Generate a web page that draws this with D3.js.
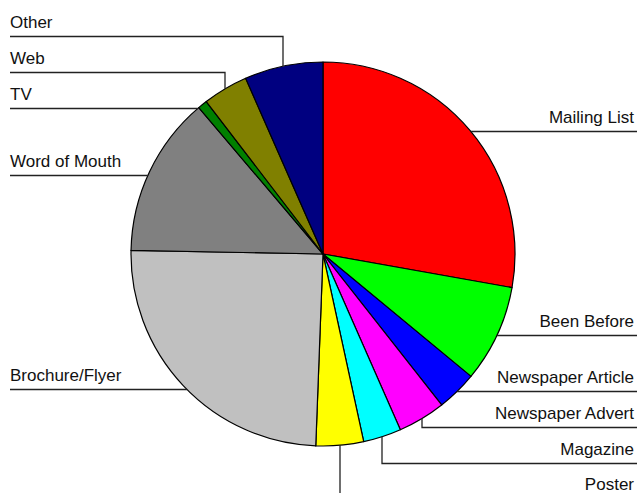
<!DOCTYPE html>
<html>
<head>
<meta charset="utf-8">
<script src="https://cdn.jsdelivr.net/npm/d3@7"></script>
<style>
  body { margin: 0; background: #fff; }
  text { font-family: Arial, "Liberation Sans", sans-serif; font-size: 17px; fill: #111; }
</style>
</head>
<body>
<div id="chart"></div>
<script>
// data (share of answers, per mille)
var categories = ["Mailing List", "Been Before", "Newspaper Article", "Newspaper Advert",
                  "Magazine", "Poster", "Brochure/Flyer", "Word of Mouth", "TV", "Web", "Other"];
var values = [278, 82, 34, 40, 32, 40, 247, 135, 8, 38, 66];
var colours = ["#FF0000", "#00FF00", "#0000FF", "#FF00FF", "#00FFFF", "#FFFF00",
               "#C0C0C0", "#808080", "#008000", "#808000", "#000080"];

var width = 637;
var height = 493;
var cx = 323, cy = 254;
var radius = 192;
var gap = 36; // min distance between two label lines

var pieData = categories.map(function (c, i) {
    return { name: c, value: values[i], colour: colours[i] };
});

var pie = d3.pie().sort(null).value(function (d) { return d.value; });
var arc = d3.arc().innerRadius(0).outerRadius(radius);
var rim = d3.arc().innerRadius(radius).outerRadius(radius);

var svg = d3.select('#chart').append('svg')
    .attr('width', width)
    .attr('height', height);

var arcs = pie(pieData);

// slices
svg.append('g')
    .attr('transform', 'translate(' + cx + ',' + cy + ')')
    .selectAll('path')
    .data(arcs)
    .enter()
    .append('path')
    .attr('d', arc)
    .attr('fill', function (d) { return d.data.colour; })
    .attr('stroke', '#000')
    .attr('stroke-width', 1.2)
    .attr('stroke-linejoin', 'round');

// label positions: anchor = middle of the arc, then push apart
var labels = arcs.map(function (d) {
    var p = rim.centroid(d);
    return { name: d.data.name, ax: cx + p[0], ay: cy + p[1], right: p[0] > 0 };
});

var rightSide = labels.filter(function (l) { return l.right; })
    .sort(function (a, b) { return a.ay - b.ay; });
var prev = -Infinity;
rightSide.forEach(function (l) {
    l.ly = Math.max(l.ay, prev + gap);
    prev = l.ly;
});

// left ones sit a little lower than their anchor in the original
var leftSide = labels.filter(function (l) { return !l.right; })
    .sort(function (a, b) { return b.ay - a.ay; });
prev = Infinity;
leftSide.forEach(function (l) {
    l.ly = Math.min(l.ay + 3, prev - gap);
    prev = l.ly;
});

var lab = svg.append('g').selectAll('g')
    .data(labels)
    .enter()
    .append('g');

lab.append('path')
    .attr('d', function (l) {
        var y = Math.round(l.ly) + 0.5;
        var x0 = l.right ? width : 10;
        if (Math.abs(l.ly - l.ay) < 6) {
            // run straight into the rim
            var dx = Math.sqrt(radius * radius - (y - cy) * (y - cy));
            var xe = l.right ? cx + dx : cx - dx;
            return 'M' + x0 + ',' + y + 'H' + xe;
        }
        return 'M' + x0 + ',' + y + 'H' + Math.round(l.ax) + 'V' + l.ay;
    })
    .attr('fill', 'none')
    .attr('stroke', '#222')
    .attr('stroke-width', 1.3);

lab.append('text')
    .attr('x', function (l) { return l.right ? 634 : 10; })
    .attr('y', function (l) { return Math.min(Math.round(l.ly) - 8, 490); })
    .attr('text-anchor', function (l) { return l.right ? 'end' : 'start'; })
    .text(function (l) { return l.name; });
</script>
</body>
</html>
